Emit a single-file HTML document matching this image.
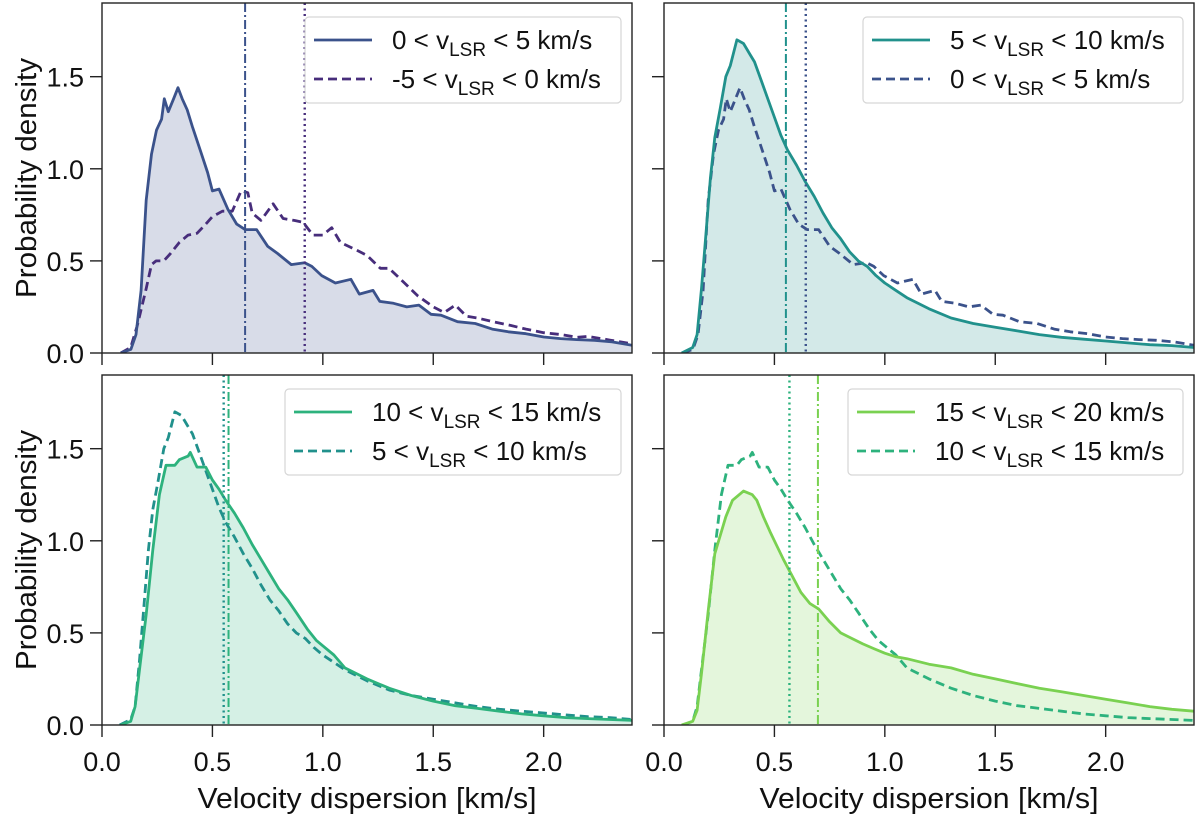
<!DOCTYPE html>
<html><head><meta charset="utf-8"><style>
html,body{margin:0;padding:0;background:#fff;}
svg{display:block;font-family:"Liberation Sans",Arial,sans-serif;}
</style></head><body>
<svg id="chart" width="1200" height="817" viewBox="0 0 1200 817" xmlns="http://www.w3.org/2000/svg"></svg>
<script>
// ---- data ----
const xTicks = [0.0, 0.5, 1.0, 1.5, 2.0];
const xTickLabels = ["0.0", "0.5", "1.0", "1.5", "2.0"];
const yTicks = [0.0, 0.5, 1.0, 1.5];
const yTickLabels = ["0.0", "0.5", "1.0", "1.5"];

const xNeg = [0.085,0.13,0.16,0.2,0.224,0.245,0.28,0.31,0.35,0.39,0.43,0.47,0.5,0.545,0.59,0.63,0.66,0.68,0.72,0.775,0.82,0.87,0.91,0.955,1.0,1.04,1.08,1.15,1.2,1.26,1.3,1.37,1.43,1.5,1.55,1.6,1.65,1.7,1.77,1.85,1.92,2.0,2.08,2.15,2.2,2.3,2.4];
const yNeg = [0,0.03,0.15,0.35,0.48,0.5,0.5,0.54,0.6,0.64,0.65,0.7,0.74,0.77,0.77,0.88,0.87,0.76,0.72,0.81,0.73,0.72,0.71,0.64,0.64,0.68,0.6,0.56,0.53,0.46,0.46,0.38,0.31,0.25,0.22,0.26,0.2,0.19,0.17,0.15,0.13,0.11,0.1,0.085,0.09,0.07,0.05];

const x0to5 = [0.085,0.131,0.154,0.177,0.2,0.224,0.247,0.27,0.282,0.3,0.324,0.344,0.363,0.386,0.409,0.448,0.478,0.5,0.53,0.57,0.61,0.648,0.7,0.75,0.795,0.857,0.918,0.95,0.995,1.057,1.127,1.165,1.227,1.258,1.32,1.38,1.435,1.49,1.535,1.61,1.69,1.767,1.84,1.92,2.0,2.076,2.15,2.23,2.31,2.4];
const y0to5 = [0,0.02,0.1,0.34,0.83,1.08,1.21,1.27,1.38,1.31,1.38,1.44,1.38,1.32,1.23,1.09,0.98,0.88,0.89,0.78,0.7,0.67,0.67,0.58,0.54,0.48,0.49,0.47,0.42,0.38,0.4,0.32,0.34,0.28,0.27,0.25,0.26,0.21,0.205,0.17,0.16,0.13,0.115,0.105,0.087,0.078,0.073,0.069,0.06,0.042];

const x5to10 = [0.08,0.13,0.15,0.17,0.19,0.21,0.23,0.255,0.28,0.3,0.33,0.36,0.39,0.41,0.44,0.47,0.5,0.53,0.56,0.6,0.64,0.68,0.72,0.76,0.8,0.84,0.88,0.92,0.96,1.0,1.05,1.1,1.15,1.2,1.3,1.4,1.5,1.6,1.7,1.8,1.9,2.0,2.1,2.2,2.3,2.4];
const y5to10 = [0,0.03,0.1,0.35,0.65,0.95,1.17,1.33,1.5,1.56,1.7,1.68,1.62,1.58,1.48,1.38,1.28,1.18,1.1,1.02,0.93,0.85,0.76,0.68,0.62,0.55,0.5,0.47,0.42,0.38,0.34,0.3,0.27,0.24,0.19,0.16,0.14,0.12,0.1,0.085,0.075,0.065,0.055,0.045,0.04,0.03];

const x10to15 = [0.085,0.13,0.15,0.17,0.2,0.23,0.26,0.29,0.33,0.35,0.39,0.4,0.43,0.47,0.5,0.53,0.56,0.6,0.64,0.68,0.72,0.76,0.8,0.84,0.88,0.93,0.97,1.0,1.05,1.1,1.2,1.3,1.4,1.5,1.6,1.7,1.8,1.9,2.0,2.1,2.2,2.3,2.4];
const y10to15 = [0,0.02,0.1,0.3,0.6,0.95,1.25,1.41,1.41,1.44,1.46,1.48,1.4,1.4,1.33,1.28,1.22,1.15,1.07,0.98,0.9,0.82,0.74,0.68,0.61,0.52,0.46,0.43,0.38,0.31,0.25,0.2,0.16,0.13,0.105,0.09,0.075,0.06,0.05,0.04,0.035,0.03,0.025];

const x15to20 = [0.08,0.13,0.15,0.17,0.2,0.23,0.26,0.28,0.31,0.36,0.4,0.42,0.45,0.48,0.5,0.54,0.58,0.62,0.66,0.7,0.75,0.8,0.85,0.9,0.95,1.0,1.05,1.1,1.2,1.3,1.4,1.5,1.6,1.7,1.8,1.9,2.0,2.1,2.2,2.3,2.4];
const y15to20 = [0,0.02,0.08,0.28,0.62,0.93,1.05,1.13,1.22,1.27,1.25,1.22,1.13,1.05,1.0,0.9,0.81,0.72,0.66,0.63,0.56,0.5,0.47,0.44,0.415,0.39,0.37,0.36,0.33,0.31,0.275,0.25,0.225,0.2,0.18,0.16,0.14,0.12,0.1,0.085,0.075];

const medianSolid = [0.648, 0.552, 0.573, 0.697];   // dash-dot lines
const medianDashed = [0.918, 0.642, 0.551, 0.568];   // dotted lines
const legendRanges = [["0","5"],["5","10"],["10","15"],["15","20"]];
const legendRangesDashed = [["-5","0"],["0","5"],["5","10"],["10","15"]];

// ---- layout ----
const NS = "http://www.w3.org/2000/svg";
const svg = document.getElementById("chart");
const colors = {neg:"#472d7b", a:"#3b528b", b:"#21918c", c:"#2db27d", d:"#7ad151"};
const panels = [
  {left:102, top:3, sx:[x0to5,y0to5], dx:[xNeg,yNeg], cs:colors.a, cd:colors.neg, ylab:true, xlab:false, legX:305},
  {left:664, top:3, sx:[x5to10,y5to10], dx:[x0to5,y0to5], cs:colors.b, cd:colors.a, ylab:false, xlab:false, legX:863},
  {left:102, top:375, sx:[x10to15,y10to15], dx:[x5to10,y5to10], cs:colors.c, cd:colors.b, ylab:true, xlab:true, legX:285},
  {left:664, top:375, sx:[x15to20,y15to20], dx:[x10to15,y10to15], cs:colors.d, cd:colors.c, ylab:false, xlab:true, legX:848}
];
const W = 530, H = 350, XMAX = 2.4, YMAX = 1.9;

function mk(tag, attrs, parent){
  const e = document.createElementNS(NS, tag);
  for (const k in attrs) e.setAttribute(k, attrs[k]);
  (parent||svg).appendChild(e);
  return e;
}

panels.forEach((p, i) => {
  const xs = v => p.left + v / XMAX * W;
  const ys = v => p.top + H - v / YMAX * H;
  const g = mk("g", {});
  
  
  const clipId = "clip" + i;
  const cp = mk("clipPath", {id: clipId}, g);
  mk("rect", {x:p.left, y:p.top, width:W, height:H}, cp);
  const plot = mk("g", {"clip-path":"url(#"+clipId+")"}, g);

  const [sxv, syv] = p.sx;
  let fillD = "M" + xs(sxv[0]) + "," + ys(0);
  sxv.forEach((v, k) => { fillD += " L" + xs(v).toFixed(1) + "," + ys(syv[k]).toFixed(1); });
  fillD += " L" + xs(sxv[sxv.length-1]) + "," + ys(0) + " Z";
  const fill = mk("path", {d:fillD, fill:p.cs, "fill-opacity":0.2, stroke:"none"}, plot);
  
  

  const [dxv, dyv] = p.dx;
  let dd = "";
  dxv.forEach((v, k) => { dd += (k ? " L" : "M") + xs(v).toFixed(1) + "," + ys(dyv[k]).toFixed(1); });
  const dl = mk("path", {d:dd, fill:"none", stroke:p.cd, "stroke-width":2.8, "stroke-dasharray":"9,5", "stroke-linejoin":"round"}, plot);
  
  

  let sd = "";
  sxv.forEach((v, k) => { sd += (k ? " L" : "M") + xs(v).toFixed(1) + "," + ys(syv[k]).toFixed(1); });
  const sl = mk("path", {d:sd, fill:"none", stroke:p.cs, "stroke-width":2.8, "stroke-linejoin":"round"}, plot);
  
  

  const v1 = mk("line", {x1:xs(medianSolid[i]), x2:xs(medianSolid[i]), y1:p.top, y2:p.top+H, stroke:p.cs, "stroke-width":2, "stroke-dasharray":"9,3,2,3"}, plot);
  
  
  const v2 = mk("line", {x1:xs(medianDashed[i]), x2:xs(medianDashed[i]), y1:p.top, y2:p.top+H, stroke:p.cd, "stroke-width":2.4, "stroke-dasharray":"2,3.5"}, plot);
  
  

  const fr = mk("rect", {x:p.left, y:p.top, width:W, height:H, fill:"none", stroke:"#222", "stroke-width":1.4}, g);
  
  

  yTicks.forEach((t, k) => {
    const tk = mk("line", {x1:p.left-12, x2:p.left, y1:ys(t), y2:ys(t), stroke:"#222", "stroke-width":1.4}, g);
    
    
    if (p.ylab) {
      const tl = mk("text", {x:p.left-18, y:ys(t)+10, "text-anchor":"end", "font-size":27, fill:"#111"}, g);
      tl.textContent = yTickLabels[k];
      
      
    }
  });
  xTicks.forEach((t, k) => {
    const tk = mk("line", {x1:xs(t), x2:xs(t), y1:p.top+H, y2:p.top+H+12, stroke:"#222", "stroke-width":1.4}, g);
    
    
    if (p.xlab) {
      const tl = mk("text", {x:xs(t), y:p.top+H+46, "text-anchor":"middle", "font-size":27, fill:"#111"}, g);
      tl.textContent = xTickLabels[k];
      
      
    }
  });
  if (p.ylab) {
    const yl = mk("text", {x:0, y:0, transform:"translate(36," + (p.top+H/2) + ") rotate(-90)", "text-anchor":"middle", "font-size":29, fill:"#111", textLength:240, lengthAdjust:"spacingAndGlyphs"}, g);
    yl.textContent = "Probability density";
    
    
  }
  if (p.xlab) {
    const xl = mk("text", {x:p.left+W/2, y:p.top+H+83, "text-anchor":"middle", "font-size":29, fill:"#111", textLength:339, lengthAdjust:"spacingAndGlyphs"}, g);
    xl.textContent = "Velocity dispersion [km/s]";
    
    
  }

  const lg = mk("g", {}, g);
  
  
  const lx = p.legX, ly = p.top + 14, lw = (p.left + W - 11) - lx;
  mk("rect", {x:lx, y:ly, width:lw, height:86, rx:4, fill:"#fff", "fill-opacity":0.85, stroke:"#d6d6d6", "stroke-width":1.2}, lg);
  const rows = [[legendRanges[i], p.cs, null], [legendRangesDashed[i], p.cd, "9,5"]];
  rows.forEach((r, k) => {
    const yy = ly + 23 + k * 39;
    const sample = mk("line", {x1:lx+9, x2:lx+67, y1:yy, y2:yy, stroke:r[1], "stroke-width":2.8}, lg);
    if (r[2]) sample.setAttribute("stroke-dasharray", r[2]);
    
    
    const t = mk("text", {x:lx+87, y:yy+9, "font-size":26, fill:"#111"}, lg);
    
    
    const a = mk("tspan", {}, t); a.textContent = r[0][0] + " < v";
    const b = mk("tspan", {"font-size":19, dy:7}, t); b.textContent = "LSR";
    const c = mk("tspan", {dy:-7}, t); c.textContent = " < " + r[0][1] + " km/s";
  });
});
</script>
</body></html>
